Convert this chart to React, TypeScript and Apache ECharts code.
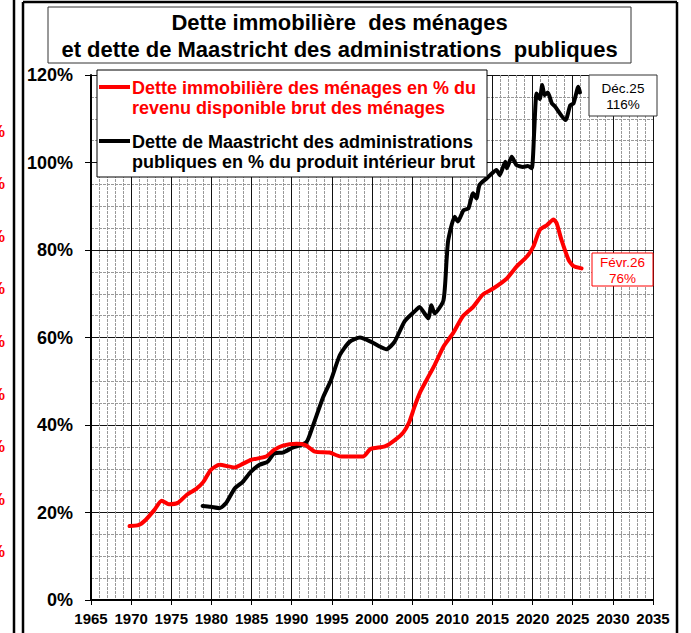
import React, { useEffect, useRef } from "react";
import * as echarts from "echarts";

const TITLE_LINES = [
  "Dette immobilière  des ménages",
  "et dette de Maastricht des administrations  publiques",
];
const RED_NAME = "Dette immobilière des ménages en % du\nrevenu disponible brut des ménages";
const BLACK_NAME = "Dette de Maastricht des administrations\npubliques en % du produit intérieur brut";

const X_MIN = 1965;
const X_MAX = 2035;
const Y_MAX = 120;

const redYears = [
  1969.8, 1970.9, 1971.8, 1972.9, 1973.8, 1974.7, 1975.8, 1976.9, 1978.1, 1979.0,
  1979.9, 1981.0, 1982.9, 1983.9, 1984.9, 1986.8, 1987.8, 1988.9, 1990.6, 1991.7,
  1992.9, 1994.7, 1996.1, 1998.9, 1999.8, 2001.6, 2002.8, 2003.9, 2004.6, 2005.3,
  2006.0, 2006.8, 2007.8, 2008.9, 2010.1, 2011.3, 2012.6, 2013.8, 2015.1, 2016.8,
  2018.0, 2019.3, 2020.1, 2020.9, 2021.8, 2022.6, 2023.0, 2023.6, 2024.5, 2025.1,
  2026.1,
];
const redValues = [
  16.9, 17.1, 18.3, 20.6, 22.7, 21.9, 22.2, 24.0, 25.4, 27.0,
  29.7, 30.9, 30.3, 31.1, 32.0, 32.8, 34.3, 35.3, 35.7, 35.4,
  33.9, 33.7, 32.8, 32.8, 34.5, 35.1, 36.5, 38.3, 40.5, 44.2,
  47.5, 50.3, 53.7, 57.9, 61.0, 64.8, 67.0, 69.8, 71.2, 73.5,
  76.2, 78.5, 80.8, 84.6, 85.7, 87.0, 86.1, 82.3, 77.7, 76.3,
  75.8,
];

const blackYears = [
  1978.9, 1979.9, 1981.0, 1981.8, 1982.9, 1983.9, 1984.9, 1986.0, 1987.0, 1987.8,
  1988.9, 1990.1, 1991.8, 1992.6, 1993.9, 1994.9, 1996.0, 1997.2, 1998.5, 1999.9,
  2001.0, 2001.8, 2002.8, 2004.1, 2005.5, 2005.9, 2007.0, 2007.4, 2007.8, 2008.9,
  2009.3, 2009.5, 2010.3, 2010.7, 2011.4, 2012.0, 2012.6, 2013.0, 2013.4, 2014.3,
  2014.7, 2015.5, 2015.9, 2016.6, 2016.8, 2017.4, 2018.0, 2018.8, 2019.4, 2019.9,
  2020.2, 2020.5, 2020.9, 2021.2, 2021.5, 2021.9, 2022.4, 2022.8, 2024.1, 2024.7,
  2025.1, 2025.7, 2025.9,
];
const blackValues = [
  21.5, 21.3, 21.0, 22.1, 25.5, 27.0, 29.3, 30.9, 31.6, 33.5,
  33.7, 34.8, 36.0, 39.6, 46.3, 50.3, 56.0, 59.0, 60.0, 59.0,
  57.9, 57.3, 59.0, 63.8, 66.3, 67.0, 64.4, 67.4, 65.5, 68.5,
  78.0, 82.3, 87.6, 86.5, 89.1, 89.5, 93.0, 91.8, 94.9, 96.4,
  97.1, 98.3, 97.1, 100.2, 98.7, 101.3, 99.4, 99.0, 99.2, 98.7,
  107.0, 115.8, 114.5, 117.7, 115.4, 116.0, 113.5, 112.8, 109.7, 113.1,
  113.5, 117.3, 116.0,
];

const lastBlackLabel = "Déc.25\n116%";
const lastRedLabel = "Févr.26\n76%";
const sideFragmentCount = 9;

const FONT = "Liberation Sans, Arial, Helvetica, sans-serif";

export default function App() {
  const ref = useRef<HTMLDivElement>(null);

  useEffect(() => {
    if (!ref.current) return;
    const chart = echarts.init(ref.current, null, { renderer: "svg" });

    const redData = redYears.map((y, i) => [y, redValues[i]]);
    const blackData = blackYears.map((y, i) => [y, blackValues[i]]);

    const fragments: any[] = [];
    for (let i = 0; i < sideFragmentCount; i++) {
      fragments.push({
        type: "text",
        x: 5,
        y: 131 + i * 52.6,
        style: {
          text: "%",
          font: `bold 16px ${FONT}`,
          fill: "#ff0000",
          align: "right",
          verticalAlign: "middle",
        },
      });
    }

    const option: any = {
      animation: false,
      backgroundColor: "#ffffff",
      textStyle: { fontFamily: FONT },
      grid: { left: 91, right: 38, top: 75, bottom: 33 },
      xAxis: {
        type: "value",
        min: X_MIN,
        max: X_MAX,
        interval: 5,
        axisLine: { show: true, onZero: false, lineStyle: { color: "#000", width: 2 } },
        axisTick: { show: true, length: 5, lineStyle: { color: "#000", width: 1 } },
        minorTick: { show: false, splitNumber: 5 },
        axisLabel: {
          formatter: (v: number) => String(v),
          color: "#000",
          fontWeight: "bold",
          fontSize: 15,
          fontFamily: FONT,
          margin: 11,
        },
        splitLine: { show: true, lineStyle: { color: "#111", width: 1 } },
        minorSplitLine: { show: true, lineStyle: { color: "#999", width: 1, type: [3, 1] } },
      },
      yAxis: {
        type: "value",
        min: 0,
        max: Y_MAX,
        interval: 20,
        axisLine: { show: true, lineStyle: { color: "#000", width: 2 } },
        axisTick: { show: true, length: 6, lineStyle: { color: "#000", width: 1 } },
        minorTick: { show: false, splitNumber: 4 },
        axisLabel: {
          formatter: "{value}%",
          color: "#000",
          fontWeight: "bold",
          fontSize: 18,
          fontFamily: FONT,
          margin: 18,
        },
        splitLine: { show: true, lineStyle: { color: "#111", width: 1 } },
        minorSplitLine: { show: true, lineStyle: { color: "#999", width: 1, type: [3, 1] } },
      },
      legend: { show: false },
      series: [
        {
          name: BLACK_NAME,
          type: "line",
          data: blackData,
          showSymbol: false,
          smooth: 0.2,
          lineStyle: { color: "#000", width: 4, join: "round", cap: "round" },
          itemStyle: { color: "#000" },
          z: 3,
        },
        {
          name: RED_NAME,
          type: "line",
          data: redData,
          showSymbol: false,
          smooth: 0.2,
          lineStyle: { color: "#ff0000", width: 4, join: "round", cap: "round" },
          itemStyle: { color: "#ff0000" },
          z: 4,
        },
      ],
      graphic: [
        { type: "line", shape: { x1: 14, y1: 0, x2: 14, y2: 633 }, style: { stroke: "#000", lineWidth: 2.5 }, z: 100 },
        { type: "line", shape: { x1: 23, y1: 2, x2: 23, y2: 633 }, style: { stroke: "#000", lineWidth: 2.5 }, z: 100 },
        { type: "line", shape: { x1: 23, y1: 2, x2: 677, y2: 2 }, style: { stroke: "#000", lineWidth: 2.5 }, z: 100 },
        { type: "line", shape: { x1: 677, y1: 2, x2: 677, y2: 633 }, style: { stroke: "#000", lineWidth: 2.5 }, z: 100 },
        ...fragments,
        {
          type: "rect",
          shape: { x: 48, y: 7, width: 583, height: 56 },
          style: { fill: "#fff", stroke: "#333", lineWidth: 1 },
          z: 100,
        },
        {
          type: "text",
          x: 339.5,
          y: 9,
          style: {
            text: TITLE_LINES.join("\n"),
            font: `bold 22px ${FONT}`,
            fill: "#000",
            align: "center",
            verticalAlign: "top",
            lineHeight: 27,
          },
          z: 101,
        },
        {
          type: "rect",
          shape: { x: 97, y: 70, width: 390, height: 107 },
          style: { fill: "#fff", stroke: "#000", lineWidth: 1 },
          z: 100,
        },
        {
          type: "line",
          shape: { x1: 99, y1: 87, x2: 130, y2: 87 },
          style: { stroke: "#ff0000", lineWidth: 4 },
          z: 101,
        },
        {
          type: "text",
          x: 132,
          y: 78,
          style: {
            text: RED_NAME,
            font: `bold 18px ${FONT}`,
            fill: "#ff0000",
            align: "left",
            verticalAlign: "top",
            lineHeight: 20,
          },
          z: 101,
        },
        {
          type: "line",
          shape: { x1: 99, y1: 141, x2: 130, y2: 141 },
          style: { stroke: "#000", lineWidth: 4 },
          z: 101,
        },
        {
          type: "text",
          x: 132,
          y: 132,
          style: {
            text: BLACK_NAME,
            font: `bold 18px ${FONT}`,
            fill: "#000",
            align: "left",
            verticalAlign: "top",
            lineHeight: 20,
          },
          z: 101,
        },
        {
          type: "rect",
          shape: { x: 589, y: 75, width: 68, height: 41 },
          style: { fill: "#fff", stroke: "#333", lineWidth: 1 },
          z: 100,
        },
        {
          type: "text",
          x: 623,
          y: 80,
          style: {
            text: lastBlackLabel,
            font: `13.5px ${FONT}`,
            fill: "#000",
            align: "center",
            verticalAlign: "top",
            lineHeight: 16,
          },
          z: 101,
        },
        {
          type: "rect",
          shape: { x: 592, y: 253, width: 61, height: 33 },
          style: { fill: "#fff", stroke: "#ff0000", lineWidth: 1 },
          z: 100,
        },
        {
          type: "text",
          x: 622.5,
          y: 254,
          style: {
            text: lastRedLabel,
            font: `13.5px ${FONT}`,
            fill: "#ff0000",
            align: "center",
            verticalAlign: "top",
            lineHeight: 16,
          },
          z: 101,
        },
      ],
    };

    chart.setOption(option);
    return () => chart.dispose();
  }, []);

  return (
    <div
      ref={ref}
      style={{ position: "fixed", left: 0, top: 0, width: 691, height: 633, background: "#fff" }}
    />
  );
}
